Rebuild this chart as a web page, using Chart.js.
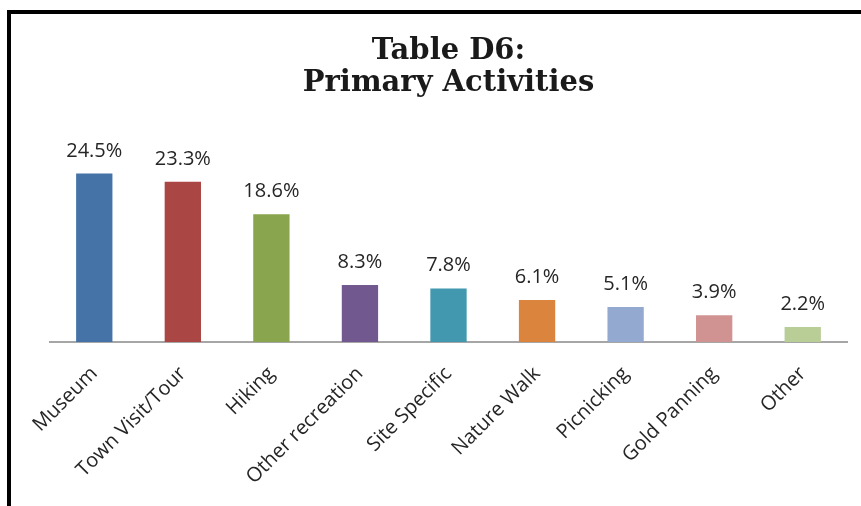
<!DOCTYPE html>
<html>
<head>
<meta charset="utf-8">
<script src="https://cdn.jsdelivr.net/npm/chart.js@4/dist/chart.umd.min.js"></script>
<style>
  html, body { margin: 0; padding: 0; background: #fff; }
  #wrap { position: relative; width: 861px; height: 506px; overflow: hidden; }
  #frame { position: absolute; left: 7px; top: 10px; width: 900px; height: 600px;
           border-left: 4px solid #000; border-top: 4px solid #000; box-sizing: border-box; }
  #chart { position: absolute; left: 0; top: 0; }
</style>
</head>
<body>
<div id="wrap">
  <div id="frame"></div>
  <canvas id="chart" width="861" height="506"></canvas>
</div>
<script>
var categories = ["Museum", "Town Visit/Tour", "Hiking", "Other recreation", "Site Specific",
                  "Nature Walk", "Picnicking", "Gold Panning", "Other"];
var shares = [24.5, 23.3, 18.6, 8.3, 7.8, 6.1, 5.1, 3.9, 2.2];
var barColors = ["#4572A7", "#AA4643", "#89A54E", "#71588F", "#4198AF",
                 "#DB843D", "#93A9CF", "#D19392", "#B9CD96"];

var valueLabels = {
    id: 'valueLabels',
    afterDatasetsDraw: function (chart) {
        var ctx = chart.ctx;
        var meta = chart.getDatasetMeta(0);
        ctx.save();
        ctx.font = '20px "Open Sans"';
        ctx.fillStyle = '#262626';
        ctx.textAlign = 'center';
        ctx.textBaseline = 'alphabetic';
        meta.data.forEach(function (bar, i) {
            ctx.fillText(shares[i].toFixed(1) + '%', bar.x, bar.y - 17);
        });
        ctx.restore();
    }
};

var ctx = document.getElementById('chart');
var barChart = new Chart(ctx, {
    type: 'bar',
    data: {
        labels: categories,
        datasets: [
            {
                data: shares,
                backgroundColor: barColors,
                barPercentage: 0.41,
                categoryPercentage: 1.0
            }
        ]
    },
    options: {
        responsive: false,
        animation: false,
        layout: {
            padding: { left: 50, right: 14, top: 0, bottom: 4 }
        },
        plugins: {
            legend: { display: false },
            tooltip: { enabled: false },
            title: {
                display: true,
                text: ["Table D6:", "Primary Activities"],
                color: '#1a1a1a',
                font: { family: '"DejaVu Serif", serif', size: 29, weight: 'bold', lineHeight: 1.1 },
                padding: { top: 36, bottom: 36 }
            }
        },
        scales: {
            x: {
                grid: { display: false, drawTicks: false },
                border: { display: true, color: '#a6a6a6', width: 2 },
                ticks: {
                    minRotation: 45,
                    maxRotation: 45,
                    autoSkip: false,
                    padding: 20,
                    color: '#262626',
                    font: { family: '"Open Sans"', size: 20 }
                },
                afterFit: function (scale) { scale.height = 160; }
            },
            y: {
                display: false,
                min: 0,
                max: 30
            }
        }
    },
    plugins: [valueLabels]
});
</script>
</body>
</html>
